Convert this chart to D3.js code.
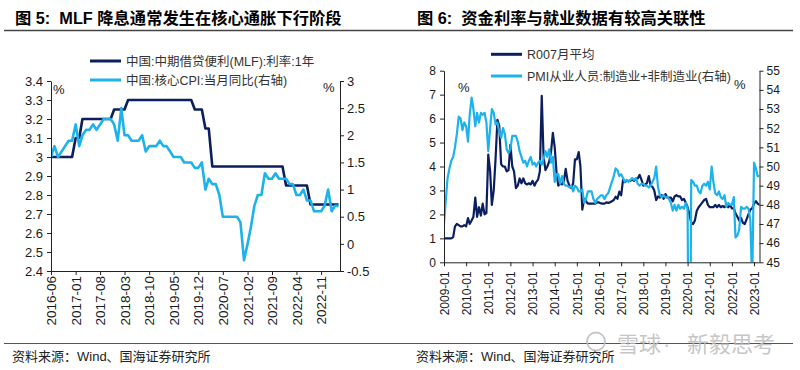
<!DOCTYPE html>
<html><head><meta charset="utf-8">
<script src="https://cdn.jsdelivr.net/npm/d3@7"></script>
<style>
html,body{margin:0;padding:0;background:#fff;}
svg{display:block;font-family:"Liberation Sans","Noto Sans CJK SC",sans-serif;}
text{white-space:pre;}
</style></head><body>
<svg id="c" width="800" height="370"></svg>
<script>
// ---------- Chart 5 data (monthly 2016-06 .. 2023-04) ----------
const c5Start = "2016-06", c5End = "2023-04";
const mlfRate = [
  3.0,3.0,3.0,3.0,3.0,3.0,3.0,
  3.1,3.1,3.2,3.2,3.2,3.2,3.2,3.2,3.2,3.2,3.2,3.25,
  3.25,3.25,3.25,3.3,3.3,3.3,3.3,3.3,3.3,3.3,3.3,3.3,
  3.3,3.3,3.3,3.3,3.3,3.3,3.3,3.3,3.3,3.3,3.25,3.25,
  3.25,3.15,3.15,2.95,2.95,2.95,2.95,2.95,2.95,2.95,2.95,2.95,
  2.95,2.95,2.95,2.95,2.95,2.95,2.95,2.95,2.95,2.95,2.95,2.95,
  2.85,2.85,2.85,2.85,2.85,2.85,2.85,2.75,2.75,2.75,2.75,2.75,
  2.75,2.75,2.75,2.75
];
const coreCpi = [
  1.6,1.8,1.6,1.7,1.8,1.9,1.9,
  2.2,1.8,2.0,2.1,2.1,2.2,2.1,2.2,2.3,2.3,2.3,2.2,
  1.9,2.5,2.0,2.0,1.9,1.9,1.9,2.0,1.7,1.8,1.8,1.8,
  1.9,1.8,1.8,1.7,1.6,1.6,1.6,1.5,1.5,1.5,1.4,1.4,
  1.5,1.0,1.2,1.1,1.1,0.9,0.5,0.5,0.5,0.5,0.5,0.4,
  -0.3,0.0,0.3,0.7,0.9,0.9,1.3,1.2,1.2,1.3,1.2,1.2,
  1.2,1.1,1.1,0.9,0.9,1.0,0.8,0.8,0.6,0.6,0.6,0.7,
  1.0,0.6,0.7,0.7
];
const c5XTicks = ["2016-06","2017-01","2017-08","2018-03","2018-10","2019-05","2019-12","2020-07","2021-02","2021-09","2022-04","2022-11"];
const c5LeftTicks = [2.4,2.5,2.6,2.7,2.8,2.9,3.0,3.1,3.2,3.3,3.4];
const c5RightTicks = [-0.5,0,0.5,1,1.5,2,2.5,3];
const c5Legend = ["中国:中期借贷便利(MLF):利率:1年","中国:核心CPI:当月同比(右轴)"];

// ---------- Chart 6 data (monthly 2009-01 .. 2023-04) ----------
const c6Start = "2009-01", c6End = "2023-04";
const r007 = [
  1.0,1.0,1.0,1.0,1.0,1.05,1.5,1.6,1.55,1.5,1.5,1.55,
  1.5,1.85,1.6,1.75,1.9,2.7,1.9,2.3,1.95,2.45,2.0,2.05,
  4.5,3.8,2.4,3.0,4.3,5.95,5.7,4.1,4.0,4.0,3.8,3.85,
  4.9,4.0,3.8,3.1,3.2,3.5,3.3,3.5,3.3,3.25,3.3,3.25,
  3.4,3.2,3.35,3.45,3.8,6.95,4.4,3.85,4.0,4.2,4.6,5.4,
  4.8,3.7,3.2,3.3,3.25,3.4,3.9,3.4,3.2,3.1,3.3,4.3,
  4.3,4.6,4.0,2.2,2.65,2.55,2.45,2.45,2.45,2.45,2.45,2.5,
  2.5,2.46,2.45,2.45,2.5,2.48,2.5,2.55,2.6,2.74,2.65,2.95,
  2.8,3.45,3.35,3.4,3.4,3.4,3.45,3.4,3.5,3.5,3.65,3.45,
  3.2,3.25,3.3,3.6,3.2,3.15,3.0,2.6,2.75,2.7,2.8,2.65,
  2.85,2.7,2.7,2.7,2.55,2.75,2.8,2.75,2.75,2.6,2.65,2.5,
  2.3,2.0,1.65,1.6,1.75,2.15,2.3,2.4,2.5,2.6,2.65,2.4,
  2.3,2.3,2.3,2.4,2.3,2.4,2.3,2.35,2.3,2.4,2.3,2.4,
  2.25,2.25,2.05,1.9,1.75,1.85,1.65,1.6,1.8,2.0,2.2,2.25,
  2.45,2.55,2.45,2.4
];
const pmiEmp = [
  47.0,48.3,49.4,49.9,50.3,50.5,51.0,51.7,52.6,52.5,51.9,52.3,
  52.1,51.3,52.7,53.6,53.0,52.1,52.8,52.3,52.8,52.7,52.8,52.3,
  50.8,52.0,53.0,52.8,52.2,52.3,51.8,51.5,52.0,51.7,50.9,50.7,
  50.9,51.6,51.6,51.6,51.3,50.8,50.5,50.2,50.3,50.0,50.3,50.5,
  50.1,50.2,50.0,50.2,50.3,50.1,50.4,50.8,50.5,50.9,50.2,50.5,
  49.2,49.6,49.6,49.1,49.5,49.1,49.0,49.0,48.9,49.0,48.7,49.0,
  48.9,48.7,48.7,48.8,48.1,48.3,48.7,48.7,48.7,48.3,48.1,48.3,
  48.4,48.5,48.5,48.3,48.5,48.6,48.9,49.2,49.5,49.9,49.8,49.5,
  49.6,49.4,49.2,49.3,49.2,49.3,49.4,49.3,49.4,49.1,49.0,49.1,
  49.1,49.0,49.0,48.9,49.0,49.2,49.4,50.0,48.9,48.5,48.4,48.5,
  48.4,48.4,48.3,48.1,47.7,48.0,47.7,48.0,47.8,47.9,47.8,48.1,
  47.8,32.3,49.3,49.2,49.0,49.0,48.7,48.6,49.0,49.1,49.0,49.2,
  48.8,50.0,49.2,48.6,48.5,48.7,48.4,48.3,48.5,47.9,48.1,48.0,
  48.0,48.4,46.3,46.4,46.7,47.9,47.8,47.8,47.9,47.8,47.2,43.9,
  50.2,49.9,49.5,49.5
];
const c6XTicks = ["2009-01","2010-01","2011-01","2012-01","2013-01","2014-01","2015-01","2016-01","2017-01","2018-01","2019-01","2020-01","2021-01","2022-01","2023-01"];
const c6LeftTicks = [0,1,2,3,4,5,6,7,8];
const c6RightTicks = [45,46,47,48,49,50,51,52,53,54,55];
const c6Legend = ["R007月平均","PMI从业人员:制造业+非制造业(右轴)"];

// ---------- drawing ----------
const DARK = "#0b1f5e", LIGHT = "#1db2ec", AXIS = "#222", TXT = "#1a1a1a";
const svg = d3.select("#c");
const parseM = d3.utcParse("%Y-%m");
const fmtM = d3.utcFormat("%Y-%m");

function monthsBetween(a, b) {
  return d3.utcMonth.range(parseM(a), d3.utcMonth.offset(parseM(b), 1));
}

function drawChart(o) {
  const months = monthsBetween(o.start, o.end);
  const x = d3.scaleUtc().domain([months[0], months[months.length - 1]]).range([o.left, o.right - o.endPad]);
  const yL = d3.scaleLinear().domain(o.lDomain).range([o.bottom, o.top]);
  const yR = d3.scaleLinear().domain(o.rDomain).range([o.bottom, o.top]);
  const g = svg.append("g");

  const clipId = "clip" + o.id;
  svg.append("clipPath").attr("id", clipId).append("rect")
    .attr("x", o.left).attr("y", o.top).attr("width", o.right - o.left).attr("height", o.bottom - o.top);

  const lineL = d3.line().x((d, i) => x(months[i])).y(d => yL(d));
  const lineR = d3.line().x((d, i) => x(months[i])).y(d => yR(d));
  const lines = g.append("g").attr("clip-path", `url(#${clipId})`);
  lines.append("path").datum(o.s1).attr("d", lineL).attr("fill", "none")
    .attr("stroke", DARK).attr("stroke-width", o.sw).attr("stroke-linejoin", "round");
  lines.append("path").datum(o.s2).attr("d", lineR).attr("fill", "none")
    .attr("stroke", LIGHT).attr("stroke-width", o.sw).attr("stroke-linejoin", "round");

  const fmtNum = d => String(+d.toFixed(1));
  const styleAxis = sel => {
    sel.selectAll(".domain").attr("stroke", AXIS).attr("stroke-width", 1);
    sel.selectAll(".tick line").attr("stroke", AXIS);
    sel.selectAll(".tick text").attr("fill", TXT).attr("font-size", o.fs)
      .attr("font-family", "'Liberation Sans', Arial, sans-serif");
  };
  g.append("g").attr("transform", `translate(${o.left},0)`)
    .call(d3.axisLeft(yL).tickValues(o.lTicks).tickFormat(fmtNum).tickSize(4).tickSizeOuter(0).tickPadding(4))
    .call(styleAxis);
  g.append("g").attr("transform", `translate(${o.right},0)`)
    .call(d3.axisRight(yR).tickValues(o.rTicks).tickFormat(fmtNum).tickSize(4).tickSizeOuter(0).tickPadding(3))
    .call(styleAxis);
  const xa = g.append("g").attr("transform", `translate(0,${o.bottom})`)
    .call(d3.axisBottom(x).tickValues(o.xTicks.map(parseM)).tickFormat(fmtM).tickSize(4).tickSizeOuter(0))
    .call(styleAxis);
  xa.select(".domain").attr("d", `M${o.left},0.5H${o.right}`);
  xa.selectAll(".tick text").attr("font-size", o.xfs)
    .attr("transform", "rotate(-90)").attr("text-anchor", "end")
    .attr("x", -o.xGap).attr("y", 0).attr("dy", "0.35em");

  // legend
  o.legend.forEach((t, i) => {
    const ly = o.legY[i];
    g.append("line").attr("x1", o.legX).attr("x2", o.legX + 31).attr("y1", ly).attr("y2", ly)
      .attr("stroke", i === 0 ? DARK : LIGHT).attr("stroke-width", 3);
    g.append("text").attr("x", o.legX + 36).attr("y", ly + 4.5).attr("font-size", 12.5)
      .attr("fill", "#333").text(t);
  });
  // percent markers
  g.append("text").attr("x", o.pctL[0]).attr("y", o.pctL[1]).attr("font-size", 13).attr("fill", TXT).text("%");
  g.append("text").attr("x", o.pctR[0]).attr("y", o.pctR[1]).attr("font-size", 13).attr("fill", TXT).text("%");
}

// titles and rules
svg.append("text").attr("x", 15).attr("y", 24).attr("font-size", 16.3).attr("font-weight", "bold")
  .attr("fill", "#000").text("图 5:  MLF 降息通常发生在核心通胀下行阶段");
svg.append("text").attr("x", 417).attr("y", 24).attr("font-size", 16.3).attr("font-weight", "bold")
  .attr("fill", "#000").text("图 6:  资金利率与就业数据有较高关联性");
svg.append("line").attr("x1", 4).attr("x2", 793).attr("y1", 30.5).attr("y2", 30.5)
  .attr("stroke", "#444").attr("stroke-width", 1.5);

drawChart({
  id: 5, start: c5Start, end: c5End, s1: mlfRate, s2: coreCpi,
  left: 51, right: 340, endPad: 1.5, top: 81, bottom: 271,
  lDomain: [2.4, 3.4], rDomain: [-0.5, 3], lTicks: c5LeftTicks, rTicks: c5RightTicks,
  xTicks: c5XTicks, fs: 13, xfs: 13.5, xGap: 5, sw: 2.6,
  legend: c5Legend, legX: 90, legY: [61, 80], pctL: [53, 94], pctR: [323, 92]
});
drawChart({
  id: 6, start: c6Start, end: c6End, s1: r007, s2: pmiEmp,
  left: 444, right: 759.5, endPad: 0, top: 70.7, bottom: 262.3,
  lDomain: [0, 8], rDomain: [45, 55], lTicks: c6LeftTicks, rTicks: c6RightTicks,
  xTicks: c6XTicks, fs: 12, xfs: 12, xGap: 9, sw: 2.2,
  legend: c6Legend, legX: 491, legY: [54.3, 76], pctL: [458, 92], pctR: [734, 89]
});

// footer
svg.append("line").attr("x1", 4).attr("x2", 793).attr("y1", 343.5).attr("y2", 343.5)
  .attr("stroke", "#555").attr("stroke-width", 1);
svg.append("text").attr("x", 12).attr("y", 361).attr("font-size", 13).attr("fill", "#222").text("资料来源：Wind、国海证券研究所");
svg.append("text").attr("x", 416).attr("y", 361).attr("font-size", 13).attr("fill", "#222").text("资料来源：Wind、国海证券研究所");

// watermark
const wm = svg.append("g").attr("opacity", 0.85);
wm.append("circle").attr("cx", 596).attr("cy", 341.5).attr("r", 9).attr("fill", "none").attr("stroke", "#bdbdbd").attr("stroke-width", 1.8);
wm.append("text").attr("x", 617).attr("y", 352).attr("font-size", 22).attr("fill", "#bdbdbd").text("雪球");
wm.append("text").attr("x", 663).attr("y", 352).attr("font-size", 22).attr("fill", "#bdbdbd").text("·");
wm.append("text").attr("x", 687).attr("y", 352).attr("font-size", 22).attr("fill", "#bdbdbd").text("新毅思考");
</script>
</body></html>
